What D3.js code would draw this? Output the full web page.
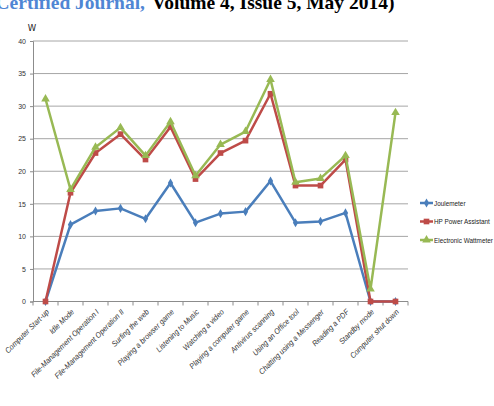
<!DOCTYPE html>
<html>
<head>
<meta charset="utf-8">
<script src="https://cdn.jsdelivr.net/npm/d3@7"></script>
<style>
  body { margin: 0; background: #fff; }
  svg { display: block; }
</style>
</head>
<body>
<div id="chart"></div>
<script>
// chart data
const categories = [
    'Computer Start-up', 'Idle Mode', 'File-Management Operation I', 'File-Management Operation II',
    'Surfing the web', 'Playing a browser game', 'Listening to Music', 'Watching a video',
    'Playing a computer game', 'Antivirus scanning', 'Using an Office tool',
    'Chatting using a Messenger', 'Reading a PDF', 'Standby mode', 'Computer shut down'
];
const joulemeter = [0, 11.8, 13.9, 14.3, 12.7, 18.2, 12.1, 13.5, 13.8, 18.5, 12.1, 12.3, 13.6, 0, 0];
const hpPowerAssistant = [0, 16.7, 22.8, 25.7, 21.8, 26.8, 18.8, 22.8, 24.7, 31.9, 17.8, 17.8, 21.8, 0, 0];
const electronicWattmeter = [31.1, 17.2, 23.7, 26.7, 22.4, 27.6, 19.3, 24.1, 26.1, 34.1, 18.3, 18.9, 22.4, 1.9, 29.0];
const yTicks = [0, 5, 10, 15, 20, 25, 30, 35, 40];
const seriesNames = ['Joulemeter', 'HP Power Assistant', 'Electronic Wattmeter'];

const width = 494, height = 406;
const plot = {left: 33, right: 408, top: 41, bottom: 301.5};

const svg = d3.select('#chart').append('svg')
    .attr('width', width)
    .attr('height', height);

// header line cut from the page above the figure
svg.append('text')
    .attr('x', 145).attr('y', 9)
    .attr('text-anchor', 'end')
    .attr('font-family', 'Liberation Serif, serif')
    .attr('font-weight', 'bold')
    .attr('font-size', 19.5)
    .attr('fill', '#4f86d4')
    .text('Certified Journal,');
svg.append('text')
    .attr('x', 152).attr('y', 9)
    .attr('font-family', 'Liberation Serif, serif')
    .attr('font-weight', 'bold')
    .attr('font-size', 19.5)
    .attr('fill', '#000')
    .text('Volume 4, Issue 5, May 2014)');

const x = d3.scaleBand()
    .domain(categories)
    .range([plot.left, plot.right]);

const y = d3.scaleLinear()
    .domain([0, 40])
    .range([plot.bottom, plot.top]);

const font = 'Liberation Sans, Arial, sans-serif';

// grid lines
svg.append('g')
    .selectAll('line')
    .data(yTicks)
    .join('line')
    .attr('x1', plot.left).attr('x2', plot.right)
    .attr('y1', d => y(d)).attr('y2', d => y(d))
    .attr('stroke', '#a6a6a6')
    .attr('stroke-width', 1);

// y axis
const yAxis = svg.append('g')
    .attr('transform', `translate(${plot.left},0)`)
    .call(d3.axisLeft(y).tickValues(yTicks).tickSize(3).tickPadding(4));
yAxis.select('.domain').attr('stroke', '#8c8c8c');
yAxis.selectAll('.tick line').attr('stroke', '#8c8c8c');
yAxis.selectAll('text')
    .attr('font-family', font)
    .attr('font-size', 7)
    .attr('fill', '#333');

svg.append('text')
    .attr('x', 32).attr('y', 31)
    .attr('text-anchor', 'middle')
    .attr('font-family', 'DejaVu Sans, sans-serif')
    .attr('font-size', 8.5)
    .attr('fill', '#222')
    .text('W');

// x axis: ticks sit between categories
const xAxis = svg.append('g');
xAxis.append('line')
    .attr('x1', plot.left).attr('x2', plot.right)
    .attr('y1', plot.bottom).attr('y2', plot.bottom)
    .attr('stroke', '#8c8c8c');
xAxis.selectAll('.xtick')
    .data(categories.concat(['end']))
    .join('line')
    .attr('class', 'xtick')
    .attr('x1', (d, i) => plot.left + i * x.bandwidth())
    .attr('x2', (d, i) => plot.left + i * x.bandwidth())
    .attr('y1', plot.bottom).attr('y2', plot.bottom + 4)
    .attr('stroke', '#8c8c8c');
xAxis.selectAll('.xlabel')
    .data(categories)
    .join('text')
    .attr('class', 'xlabel')
    .attr('transform', d => `translate(${x(d) + x.bandwidth() / 2 + 4},${plot.bottom + 11}) rotate(-45) scale(0.9,1)`)
    .attr('text-anchor', 'end')
    .attr('font-family', font)
    .attr('font-style', 'italic')
    .attr('font-size', 7.9)
    .attr('fill', '#333')
    .text(d => d);

// series
const series = [
    {name: seriesNames[0], values: joulemeter, color: '#4a7ebb', marker: 'diamond'},
    {name: seriesNames[1], values: hpPowerAssistant, color: '#be4b48', marker: 'square'},
    {name: seriesNames[2], values: electronicWattmeter, color: '#98b954', marker: 'triangle'}
];

const symbolType = {diamond: d3.symbolDiamond, square: d3.symbolSquare, triangle: d3.symbolTriangle};
const symbolSize = {diamond: 24, square: 32, triangle: 32};

const line = d3.line()
    .x((d, i) => x(categories[i]) + x.bandwidth() / 2)
    .y(d => y(d));

series.forEach(s => {
    const g = svg.append('g');
    g.append('path')
        .datum(s.values)
        .attr('d', line)
        .attr('fill', 'none')
        .attr('stroke', s.color)
        .attr('stroke-width', 2.5)
        .attr('stroke-linejoin', 'round');
    g.selectAll('path.marker')
        .data(s.values)
        .join('path')
        .attr('class', 'marker')
        .attr('transform', (d, i) => `translate(${x(categories[i]) + x.bandwidth() / 2},${y(d)})`)
        .attr('d', d3.symbol().type(symbolType[s.marker]).size(symbolSize[s.marker]))
        .attr('fill', s.color);
});

// legend
const legend = svg.append('g')
    .attr('transform', 'translate(420,203)');
series.forEach((s, i) => {
    const row = legend.append('g').attr('transform', `translate(0,${i * 18.5})`);
    row.append('line')
        .attr('x1', 0).attr('x2', 13)
        .attr('stroke', s.color)
        .attr('stroke-width', 2.5);
    row.append('path')
        .attr('transform', 'translate(6.5,0)')
        .attr('d', d3.symbol().type(symbolType[s.marker]).size(symbolSize[s.marker]))
        .attr('fill', s.color);
    row.append('text')
        .attr('transform', 'translate(14,2.6) scale(0.85,1)')
        .attr('font-family', font)
        .attr('font-size', 7.5)
        .attr('fill', '#222')
        .text(s.name);
});
</script>
</body>
</html>
